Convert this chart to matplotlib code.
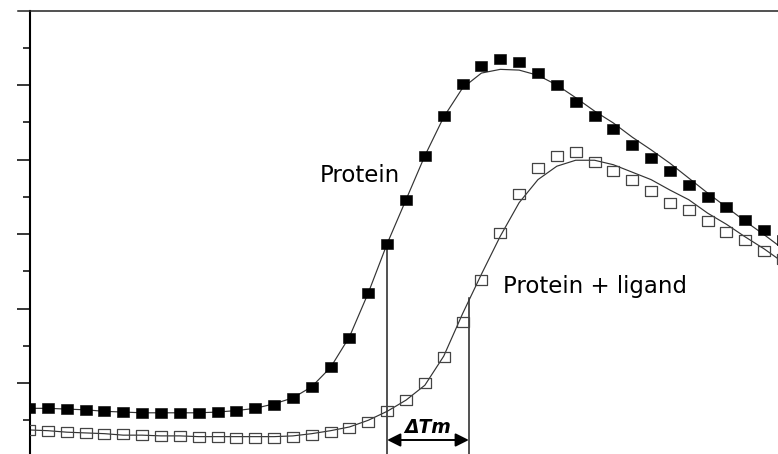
import numpy as np
import matplotlib.pyplot as plt
from matplotlib.lines import Line2D

# temperature grid of the melt scan (deg C)
temperature = [25.0, 26.5, 28.0, 29.5, 31.0, 32.5, 34.0, 35.5, 37.0, 38.5,
               40.0, 41.5, 43.0, 44.5, 46.0, 47.5, 49.0, 50.5, 52.0, 53.5,
               55.0, 56.5, 58.0, 59.5, 61.0, 62.5, 64.0, 65.5, 67.0, 68.5,
               70.0, 71.5, 73.0, 74.5, 76.0, 77.5, 79.0, 80.5, 82.0, 83.5,
               85.0]

# measured fluorescence (a.u.)
protein = [0.66, 0.66, 0.65, 0.64, 0.62, 0.61, 0.60, 0.60, 0.60, 0.60,
           0.61, 0.62, 0.66, 0.70, 0.80, 0.95, 1.22, 1.60, 2.21, 2.87,
           3.46, 4.05, 4.58, 5.01, 5.26, 5.35, 5.31, 5.16, 5.00, 4.77,
           4.58, 4.41, 4.20, 4.02, 3.85, 3.66, 3.50, 3.36, 3.19, 3.05,
           2.92]
protein_ligand = [0.37, 0.36, 0.34, 0.33, 0.32, 0.32, 0.30, 0.29, 0.29, 0.28,
                  0.28, 0.26, 0.26, 0.26, 0.28, 0.30, 0.34, 0.40, 0.48, 0.62,
                  0.77, 1.00, 1.35, 1.82, 2.38, 3.01, 3.54, 3.89, 4.05, 4.10,
                  3.97, 3.85, 3.73, 3.58, 3.42, 3.32, 3.17, 3.03, 2.92, 2.77,
                  2.66]

# fitted melting curves
protein_fit = [0.66, 0.66, 0.65, 0.64, 0.62, 0.61, 0.60, 0.60, 0.60, 0.60,
               0.61, 0.63, 0.66, 0.72, 0.80, 0.95, 1.21, 1.62, 2.21, 2.87,
               3.46, 4.05, 4.57, 4.96, 5.16, 5.21, 5.20, 5.13, 5.00, 4.83,
               4.65, 4.49, 4.30, 4.13, 3.95, 3.75, 3.55, 3.36, 3.17, 2.99,
               2.80]
ligand_fit = [0.37, 0.36, 0.34, 0.33, 0.32, 0.30, 0.30, 0.29, 0.29, 0.28,
              0.28, 0.28, 0.28, 0.28, 0.29, 0.32, 0.36, 0.41, 0.50, 0.62,
              0.77, 0.97, 1.36, 1.93, 2.46, 2.97, 3.42, 3.73, 3.91, 3.99,
              3.99, 3.93, 3.83, 3.73, 3.59, 3.46, 3.28, 3.13, 2.96, 2.80,
              2.62]

# melting temperatures and curve values at Tm
tm_protein, tm_protein_y = 53.5, 2.87
tm_ligand, tm_ligand_y = 60.0, 2.14

fig = plt.figure(figsize=(7.78, 4.54), dpi=100)
ax = fig.add_axes([30 / 778, 0.0, 1 - 30 / 778, 1 - 10.5 / 454])

# slightly wide square marker
box = [(-1.12, -1), (1.12, -1), (1.12, 1), (-1.12, 1), (-1.12, -1)]

line_col = '#333333'
ax.plot(temperature, protein_fit, color=line_col, lw=0.85, zorder=2)
ax.plot(temperature, ligand_fit, color=line_col, lw=0.85, zorder=2)
ax.plot(temperature, protein, ls='none', marker=box, ms=8.2,
        mfc='black', mec='black', mew=0.4, zorder=3)
ax.plot(temperature, protein_ligand, ls='none', marker=box, ms=8.2,
        mfc='none', mec='#444444', mew=0.9, zorder=3)

# Tm drop lines and the shift arrow
ax.plot([tm_protein, tm_protein], [0, tm_protein_y], color='#222222', lw=1.1, zorder=1)
ax.plot([tm_ligand, tm_ligand], [0, tm_ligand_y], color='#222222', lw=1.1, zorder=1)
ax.annotate('', xy=(tm_ligand, 0.235), xytext=(tm_protein, 0.235),
            arrowprops=dict(arrowstyle='<|-|>', color='black', lw=1.4,
                            mutation_scale=20, shrinkA=0, shrinkB=0))
ax.text((tm_protein + tm_ligand) / 2, 0.33, 'ΔTm', fontsize=13.5,
        fontweight='bold', fontstyle='italic', ha='center', va='baseline')

ax.text(51.3, 3.70, 'Protein', fontsize=16.5, ha='center', va='baseline')
ax.text(62.7, 2.21, 'Protein + ligand', fontsize=16.5, ha='left', va='baseline')

ax.set_xlim(25.08, 84.6)
ax.set_ylim(0.047, 6.0)
ax.set_xticks([])
ax.set_yticks([1, 2, 3, 4, 5])
ax.set_yticks([0.5, 1.5, 2.5, 3.5, 4.5, 5.5], minor=True)
ax.set_yticklabels([])
ax.tick_params(axis='y', which='major', direction='out', length=9.4, width=1.1)
ax.tick_params(axis='y', which='minor', direction='out', length=5, width=1.1)
for side in ['top', 'right', 'bottom']:
    ax.spines[side].set_visible(False)
ax.spines['left'].set_linewidth(1.5)

# top frame line runs past the y axis
fig.add_artist(Line2D([18 / 778, 1.0], [1 - 10.5 / 454] * 2,
                      color='#222222', lw=1.1))

fig.savefig('out.png', dpi=100)
